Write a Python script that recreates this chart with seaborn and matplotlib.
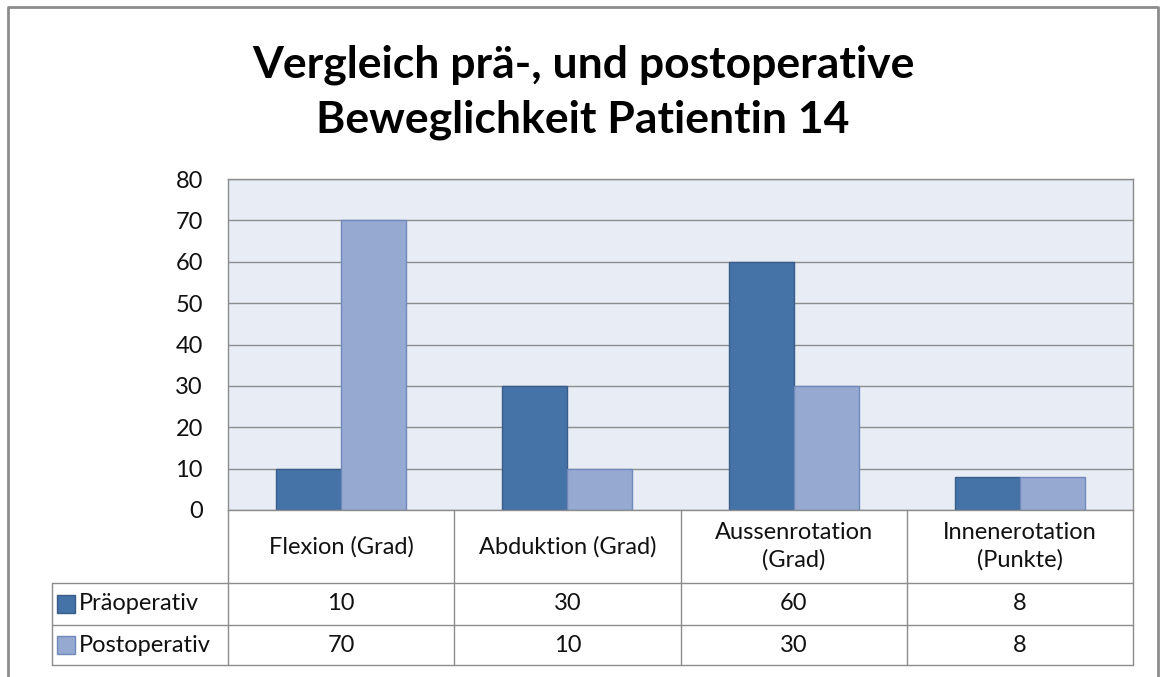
import pandas as pd
import matplotlib.pyplot as plt
import seaborn as sns
from matplotlib.lines import Line2D
from matplotlib.patches import Rectangle

plt.switch_backend("agg")

# Data
categories = ["Flexion (Grad)", "Abduktion (Grad)", "Aussenrotation\n(Grad)", "Innenerotation\n(Punkte)"]
series = ["Präoperativ", "Postoperativ"]
pre_values = [10, 30, 60, 8]
post_values = [70, 10, 30, 8]
title = "Vergleich prä-, und postoperative\nBeweglichkeit Patientin 14"

colors = ["#4572A7", "#95A9D1"]
edges = ["#385D8A", "#6F89BA"]

df = pd.DataFrame({
    "category": categories * 2,
    "series": [series[0]] * 4 + [series[1]] * 4,
    "value": pre_values + post_values,
})

sns.set_style("white")
plt.rcParams["font.family"] = ["Lato", "DejaVu Sans"]

fig = plt.figure(figsize=(11.62, 6.77), dpi=100)
ax = fig.add_axes([228 / 1162, 1 - 510 / 677, 905 / 1162, 331 / 677])

sns.barplot(data=df, x="category", y="value", hue="series", palette=colors,
            width=0.575, ax=ax, legend=False, saturation=1)
for i, bar in enumerate(ax.patches[:8]):
    bar.set_edgecolor(edges[i // 4])
    bar.set_linewidth(1)

ax.set_facecolor("#E8ECF5")
ax.set_ylim(0, 80)
ax.set_xlim(-0.5, 3.5)
ax.set_yticks(range(0, 81, 10))
ax.yaxis.grid(True, color="#8C8C8C", linewidth=1)
ax.set_axisbelow(True)
ax.tick_params(axis="y", length=0, labelsize=17, pad=18, labelcolor="#111111")
ax.set_xticks([])
ax.set_xlabel("")
ax.set_ylabel("")
for sp in ax.spines.values():
    sp.set_color("#8C8C8C")
    sp.set_linewidth(1)

# data table below the plot
trans = ax.get_xaxis_transform()
h_px = 331.0
y_hdr = -(583 - 510) / h_px
y_r1 = -(625 - 510) / h_px
y_r2 = -(665 - 510) / h_px
x_left = -0.5 + (52 - 228) / 226.25
line_kw = dict(color="#8C8C8C", linewidth=1, transform=trans, clip_on=False)

for yy in [y_hdr, y_r1, y_r2]:
    ax.add_line(Line2D([x_left, 3.5], [yy, yy], **line_kw))
ax.add_line(Line2D([x_left, x_left], [y_hdr, y_r2], **line_kw))
for b in range(5):
    ax.add_line(Line2D([b - 0.5, b - 0.5], [0, y_r2], **line_kw))

for i, cat in enumerate(categories):
    ax.text(i, y_hdr / 2, cat, transform=trans, ha="center", va="center",
            fontsize=17, color="#111111", linespacing=1.35)

rows = [pre_values, post_values]
row_mid = [(y_hdr + y_r1) / 2, (y_r1 + y_r2) / 2]
for r, vals in enumerate(rows):
    for i, v in enumerate(vals):
        ax.text(i, row_mid[r], str(v), transform=trans, ha="center", va="center",
                fontsize=17, color="#111111")
    ax.add_patch(Rectangle((x_left + 0.022, row_mid[r] - 0.027), 0.078, 0.054,
                           transform=trans, clip_on=False,
                           facecolor=colors[r], edgecolor=edges[r], linewidth=1))
    ax.text(x_left + 0.12, row_mid[r], series[r], transform=trans,
            ha="left", va="center", fontsize=17, color="#111111")

fig.text(583 / 1162, 1 - 92 / 677, title, ha="center", va="center",
         fontsize=32, fontweight="bold", linespacing=1.45, color="black")

# chart frame
fig.add_artist(Line2D([8 / 1162, 8 / 1162, 1158 / 1162, 1158 / 1162],
                      [0, 1 - 7 / 677, 1 - 7 / 677, 0],
                      transform=fig.transFigure, color="#8C8C8C", linewidth=2))

fig.savefig("out.png", dpi=100)
